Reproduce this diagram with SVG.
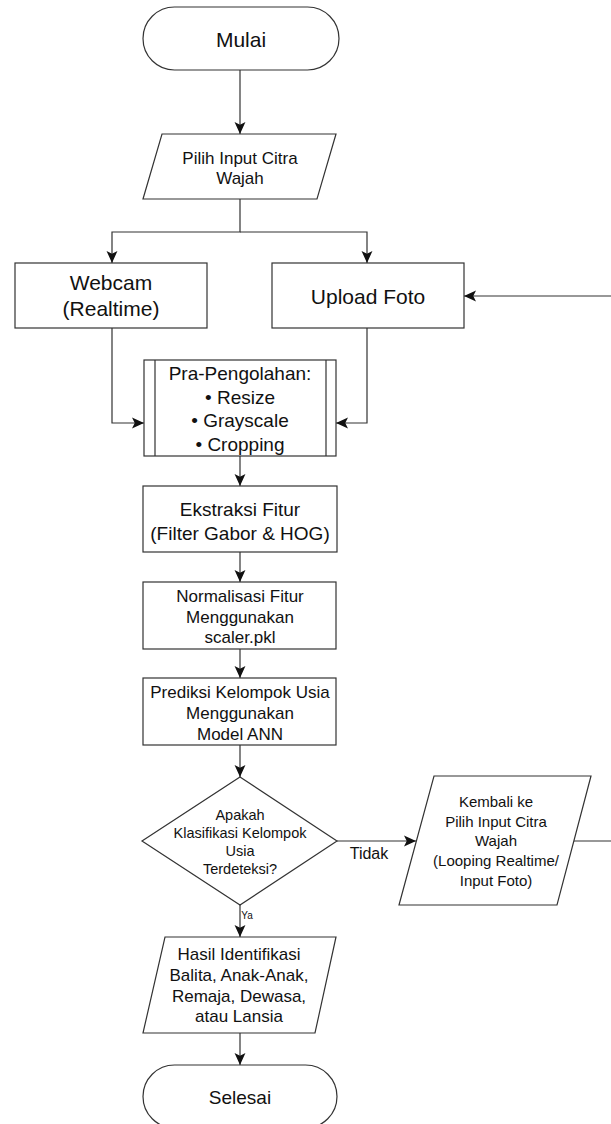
<svg xmlns="http://www.w3.org/2000/svg" width="611" height="1124" viewBox="0 0 611 1124">
<style>
.s{fill:#fff;stroke:#333;stroke-width:1.2}
.c{fill:none;stroke:#333;stroke-width:1.2}
text{font-family:"Liberation Sans",Arial,sans-serif;fill:#111;text-anchor:middle}
</style>
<defs>
<marker id="a" markerUnits="userSpaceOnUse" markerWidth="12" markerHeight="12" viewBox="0 0 11 10" refX="11" refY="5" orient="auto">
<path d="M0,0 L11,5 L0,10 L2.5,5 z" fill="#111"/>
</marker>
</defs>
<rect width="611" height="1124" fill="#fff"/>
<g id="connectors">
<path class="c" d="M240,70 V134" marker-end="url(#a)"/>
<path class="c" d="M240,199 V232 H112 V263" marker-end="url(#a)"/>
<path class="c" d="M240,232 H367 V263" marker-end="url(#a)"/>
<path class="c" d="M112,328 V423 H144" marker-end="url(#a)"/>
<path class="c" d="M367,328 V423 H336" marker-end="url(#a)"/>
<path class="c" d="M611,296 H464" marker-end="url(#a)"/>
<path class="c" d="M240,456 V486" marker-end="url(#a)"/>
<path class="c" d="M240,552 V582" marker-end="url(#a)"/>
<path class="c" d="M240,649 V678" marker-end="url(#a)"/>
<path class="c" d="M240,745 V777" marker-end="url(#a)"/>
<path class="c" d="M337,841 H416" marker-end="url(#a)"/>
<path class="c" d="M573,841 H611"/>
<path class="c" d="M240,905 V937" marker-end="url(#a)"/>
<path class="c" d="M240,1033 V1065" marker-end="url(#a)"/>
<text x="369" y="859" font-size="16">Tidak</text>
<text x="247" y="919" font-size="10">Ya</text>
</g>
<g id="mulai">
<rect class="s" x="143" y="7" width="196" height="63" rx="31.5"/>
<text x="241" y="47" font-size="21">Mulai</text>
</g>
<g id="pilih">
<polygon class="s" points="162,134 336,134 317,199 143,199"/>
<text x="240" y="164" font-size="17">Pilih Input Citra</text>
<text x="240" y="184" font-size="17">Wajah</text>
</g>
<g id="webcam">
<rect class="s" x="15" y="263" width="192" height="65"/>
<text x="111" y="290" font-size="21">Webcam</text>
<text x="111" y="316" font-size="21">(Realtime)</text>
</g>
<g id="upload">
<rect class="s" x="272" y="263" width="192" height="65"/>
<text x="368" y="304" font-size="21">Upload Foto</text>
</g>
<g id="pra">
<rect class="s" x="144" y="360" width="192" height="96"/>
<path class="c" d="M155,360 V456 M326,360 V456"/>
<text x="240" y="380" font-size="19">Pra-Pengolahan:</text>
<text x="240" y="403.5" font-size="19">• Resize</text>
<text x="240" y="427" font-size="19">• Grayscale</text>
<text x="240" y="450.5" font-size="19">• Cropping</text>
</g>
<g id="ekstraksi">
<rect class="s" x="143" y="486" width="194" height="66"/>
<text x="240" y="516" font-size="19">Ekstraksi Fitur</text>
<text x="240" y="540" font-size="19">(Filter Gabor &amp; HOG)</text>
</g>
<g id="normalisasi">
<rect class="s" x="143" y="582" width="193" height="67"/>
<text x="240" y="602" font-size="17">Normalisasi Fitur</text>
<text x="240" y="622.5" font-size="17">Menggunakan</text>
<text x="240" y="643" font-size="17">scaler.pkl</text>
</g>
<g id="prediksi">
<rect class="s" x="143" y="678" width="193" height="67"/>
<text x="240" y="698" font-size="17">Prediksi Kelompok Usia</text>
<text x="240" y="719" font-size="17">Menggunakan</text>
<text x="240" y="740" font-size="17">Model ANN</text>
</g>
<g id="keputusan">
<polygon class="s" points="240,777 337,841 240,905 142,841"/>
<text x="240" y="820" font-size="14.5">Apakah</text>
<text x="240" y="838" font-size="14.5">Klasifikasi Kelompok</text>
<text x="240" y="856" font-size="14.5">Usia</text>
<text x="240" y="874" font-size="14.5">Terdeteksi?</text>
</g>
<g id="kembali">
<polygon class="s" points="434,776 591,776 557,905 399,905"/>
<text x="496" y="807" font-size="15">Kembali ke</text>
<text x="496" y="826.5" font-size="15">Pilih Input Citra</text>
<text x="496" y="846" font-size="15">Wajah</text>
<text x="496" y="866" font-size="15">(Looping Realtime/</text>
<text x="496" y="885.5" font-size="15">Input Foto)</text>
</g>
<g id="hasil">
<polygon class="s" points="165,937 336,937 315,1033 143,1033"/>
<text x="239" y="960" font-size="17">Hasil Identifikasi</text>
<text x="239" y="981" font-size="17">Balita, Anak-Anak,</text>
<text x="239" y="1001.5" font-size="17">Remaja, Dewasa,</text>
<text x="239" y="1022" font-size="17">atau Lansia</text>
</g>
<g id="selesai">
<rect class="s" x="143" y="1065" width="194" height="63" rx="31.5"/>
<text x="240" y="1104" font-size="19">Selesai</text>
</g>
</svg>
